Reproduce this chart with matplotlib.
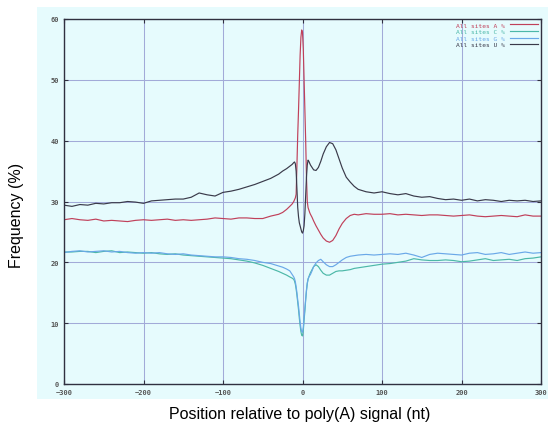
import matplotlib
matplotlib.use("Agg")
import matplotlib.pyplot as plt
from matplotlib.patches import Rectangle

# positions (nt relative to poly(A) signal)
pos = ([-300, -290, -280, -270, -260, -250, -240, -230, -220, -210,
        -200, -190, -180, -170, -160, -150, -140, -130, -120, -110,
        -100, -90, -80, -70, -60, -50, -40, -30]
       + [-25, -20, -16, -13, -11]
       + [-10, -9, -8, -7, -6, -5, -4, -3, -2, -1, 0, 1, 2, 3, 4, 5, 6, 7, 8, 9, 10]
       + [12, 14, 17, 20, 23, 26, 30, 34, 38, 42, 46, 50, 55, 60, 65, 70]
       + [80, 90, 100, 110, 120, 130, 140, 150, 160, 170, 180, 190, 200,
          210, 220, 230, 240, 250, 260, 270, 280, 290, 300])

freq_A = ([27.0, 27.2, 27.0, 26.9, 27.1, 26.8, 26.9, 26.8, 26.7, 26.9,
           27.0, 26.9, 27.0, 27.1, 26.9, 27.0, 26.9, 27.0, 27.1, 27.3,
           27.2, 27.1, 27.3, 27.3, 27.2, 27.2, 27.6, 27.9]
          + [28.2, 28.7, 29.2, 29.6, 30.0]
          + [30.3, 30.6, 31.2, 36.0, 41.0, 45.0, 49.5, 54.0, 57.0, 58.2, 57.8,
             55.0, 50.0, 45.0, 40.0, 34.0, 30.0, 29.0, 28.6, 28.2, 27.9]
          + [27.4, 26.8, 26.0, 25.3, 24.6, 24.0, 23.5, 23.3, 23.6, 24.4, 25.5,
             26.4, 27.2, 27.7, 27.9, 27.8]
          + [28.0, 27.9, 27.9, 28.0, 27.8, 27.9, 27.8, 27.7, 27.8, 27.8, 27.7,
             27.6, 27.7, 27.8, 27.6, 27.5, 27.6, 27.7, 27.6, 27.5, 27.8, 27.6, 27.6])

freq_C = ([21.7, 21.7, 21.8, 21.8, 21.6, 21.8, 21.9, 21.6, 21.7, 21.6,
           21.5, 21.6, 21.4, 21.3, 21.4, 21.2, 21.1, 21.0, 20.9, 20.8,
           20.7, 20.6, 20.4, 20.2, 19.9, 19.5, 19.0, 18.5]
          + [18.2, 17.9, 17.6, 17.4, 17.2]
          + [16.9, 16.4, 15.6, 14.6, 13.4, 12.2, 10.8, 9.6, 8.6, 8.0, 7.9,
             8.8, 10.5, 12.0, 13.8, 15.3, 16.5, 17.2, 17.6, 18.0, 18.3]
          + [18.8, 19.3, 19.6, 19.3, 18.7, 18.2, 17.9, 17.9, 18.2, 18.5, 18.6,
             18.6, 18.7, 18.8, 19.0, 19.1]
          + [19.3, 19.5, 19.7, 19.8, 20.0, 20.2, 20.6, 20.4, 20.3, 20.3, 20.4,
             20.3, 20.1, 20.2, 20.4, 20.6, 20.3, 20.4, 20.5, 20.3, 20.6, 20.7, 20.9])

freq_G = ([21.6, 21.8, 21.9, 21.7, 21.8, 21.9, 21.7, 21.8, 21.6, 21.5,
           21.6, 21.5, 21.6, 21.4, 21.3, 21.4, 21.2, 21.1, 21.0, 20.9,
           20.9, 20.8, 20.6, 20.5, 20.3, 20.0, 19.8, 19.4]
          + [19.2, 18.9, 18.6, 18.0, 17.6]
          + [17.3, 16.8, 16.0, 15.0, 13.8, 12.8, 11.5, 10.2, 9.2, 8.6, 8.5,
             9.3, 11.0, 12.5, 14.0, 15.5, 16.6, 17.3, 17.6, 17.8, 18.0]
          + [18.6, 19.3, 19.9, 20.3, 20.5, 20.1, 19.6, 19.3, 19.3, 19.6, 20.0,
             20.4, 20.8, 21.0, 21.1, 21.2]
          + [21.3, 21.2, 21.3, 21.4, 21.3, 21.5, 21.2, 20.8, 21.3, 21.5, 21.4,
             21.3, 21.2, 21.5, 21.6, 21.3, 21.4, 21.6, 21.3, 21.5, 21.7, 21.5, 21.6])

freq_U = ([29.4, 29.2, 29.5, 29.4, 29.7, 29.6, 29.8, 29.8, 30.0, 29.9,
           29.7, 30.1, 30.2, 30.3, 30.4, 30.4, 30.7, 31.4, 31.1, 30.9,
           31.5, 31.7, 32.0, 32.4, 32.8, 33.3, 33.8, 34.5]
          + [35.0, 35.4, 35.8, 36.1, 36.4]
          + [36.5, 36.2, 35.0, 32.0, 29.0, 27.5, 26.5, 26.0, 25.5, 25.0, 24.8,
             25.2, 26.0, 28.0, 31.0, 34.0, 36.0, 36.8, 36.6, 36.3, 36.0]
          + [35.6, 35.2, 35.1, 35.6, 36.6, 37.8, 39.0, 39.7, 39.5, 38.5, 37.0,
             35.5, 34.0, 33.2, 32.5, 32.0]
          + [31.6, 31.4, 31.6, 31.3, 31.1, 31.3, 30.9, 30.7, 30.8, 30.5, 30.3,
             30.4, 30.2, 30.4, 30.1, 30.3, 30.2, 30.0, 30.2, 30.1, 30.2, 30.0, 30.1])

series = [
    ("All sites A %", freq_A, "#c0405a"),
    ("All sites C %", freq_C, "#4cb8a8"),
    ("All sites G %", freq_G, "#6aa8e8"),
    ("All sites U %", freq_U, "#3a3a4a"),
]

xticks = [-300, -200, -100, 0, 100, 200, 300]
yticks = [0, 10, 20, 30, 40, 50, 60]

fig = plt.figure(figsize=(5.55, 4.27), dpi=100)
fig.patch.set_facecolor("white")
# light cyan panel behind the plot, like the original screenshot
panel = Rectangle((37 / 555, 1 - 400 / 427), (548 - 37) / 555, (400 - 8) / 427,
                  transform=fig.transFigure, facecolor="#e6fbfd",
                  edgecolor="none", zorder=-10)
fig.patches.append(panel)

ax = fig.add_axes([64 / 555, 1 - 385 / 427, (541 - 64) / 555, (385 - 20) / 427])
ax.set_facecolor("#e6fbfd")

for label, vals, color in series:
    ax.plot(pos, vals, color=color, lw=0.85, label=label)

ax.set_xlim(-300, 300)
ax.set_ylim(0, 60)
ax.set_xticks(xticks)
ax.set_yticks(yticks)
ax.grid(True, color="#a2aad8", lw=0.75)
ax.set_axisbelow(True)
for sp in ax.spines.values():
    sp.set_color("#303040")
    sp.set_linewidth(1.0)
ax.tick_params(direction="in", length=3, width=0.8, color="#303040",
               labelsize=5, labelcolor="#555555", right=True, top=True)
for t in ax.get_xticklabels() + ax.get_yticklabels():
    t.set_family("DejaVu Sans Mono")
    t.set_fontweight("bold")

leg = ax.legend(loc="upper right", frameon=False, markerfirst=False,
                handlelength=4.5, labelspacing=0.2,
                borderaxespad=0.1, handletextpad=0.8,
                labelcolor="linecolor", prop={"family": "DejaVu Sans Mono", "size": 4.5})

fig.text(17 / 555, 1 - 215 / 427, "Frequency (%)", rotation=90, ha="center", va="center",
         fontsize=11.5, family="Liberation Sans")
fig.text(300 / 555, 1 - 415 / 427, "Position relative to poly(A) signal (nt)",
         ha="center", va="center", fontsize=11.5, family="Liberation Sans")

fig.savefig("out.png", dpi=100)
